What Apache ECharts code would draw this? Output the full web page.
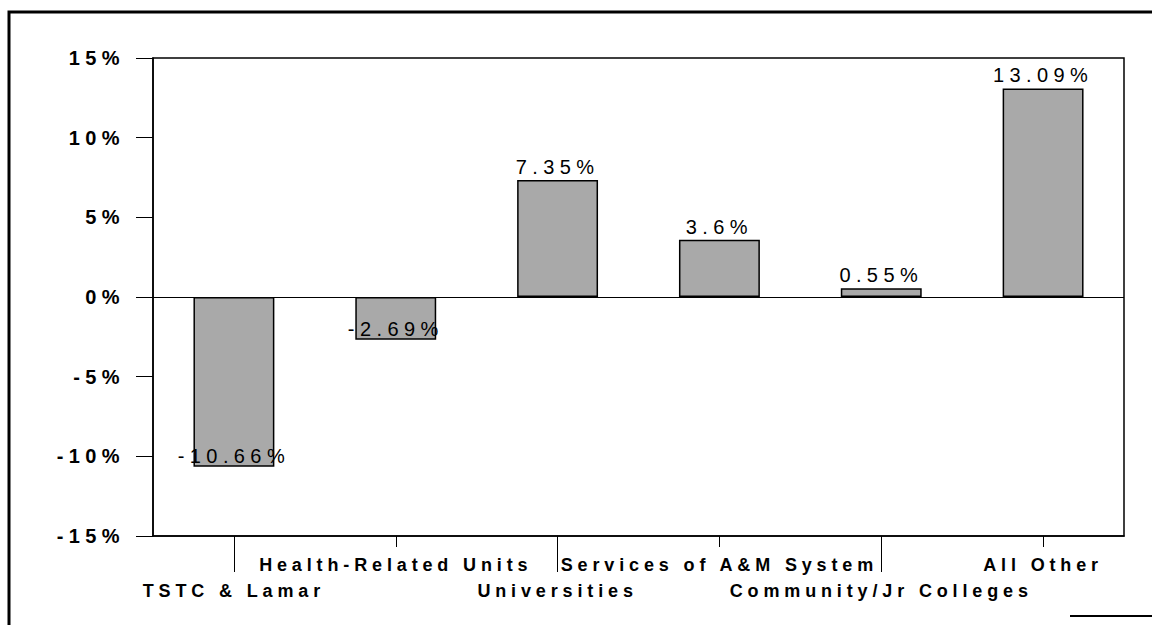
<!DOCTYPE html>
<html>
<head>
<meta charset="utf-8">
<script src="https://cdn.jsdelivr.net/npm/echarts@6/dist/echarts.min.js"></script>
<style>
  html, body { margin: 0; padding: 0; background: #fff; }
  #chart { width: 1152px; height: 625px; }
  /* wide tracking like the scanned original */
  #chart text { letter-spacing: 0.27em; }
</style>
</head>
<body>
<div id="chart"></div>
<script>
// categories and values (percent change)
var categories = ['TSTC & Lamar', 'Health-Related Units', 'Universities', 'Services of A&M System', 'Community/Jr Colleges', 'All Other'];
var changes = [-10.66, -2.69, 7.35, 3.6, 0.55, 13.09];
var yTicks = [-15, -10, -5, 0, 5, 10, 15];

var chart = echarts.init(document.getElementById('chart'), null, { renderer: 'svg' });
var font = '"Liberation Sans", Arial, Helvetica, sans-serif';

var option = {
  backgroundColor: '#fff',
  animation: false,
  grid: {
    left: 153, top: 58, right: 28, bottom: 89,
    show: true,
    borderColor: '#000',
    borderWidth: 1.5
  },
  xAxis: [
    {   // lower row of labels, long ticks
      type: 'category',
      data: categories,
      position: 'bottom',
      axisLine: { show: true, onZero: false, lineStyle: { color: '#000', width: 1.5 } },
      axisTick: {
        show: true, alignWithLabel: true, length: 36,
        interval: function (i) { return i % 2 === 0; },
        lineStyle: { color: '#000', width: 1 }
      },
      axisLabel: {
        interval: function (i) { return i % 2 === 0; },
        margin: 46,
        color: '#000', fontSize: 18, fontWeight: 'bold', fontFamily: font
      }
    },
    {   // upper row of labels, short ticks
      type: 'category',
      data: categories,
      position: 'bottom',
      axisLine: { show: false, onZero: false },
      axisTick: {
        show: true, alignWithLabel: true, length: 11,
        interval: function (i) { return i % 2 === 1; },
        lineStyle: { color: '#000', width: 1 }
      },
      axisLabel: {
        interval: function (i) { return i % 2 === 1; },
        margin: 20,
        color: '#000', fontSize: 18, fontWeight: 'bold', fontFamily: font
      }
    }
  ],
  yAxis: {
    type: 'value',
    min: yTicks[0],
    max: yTicks[yTicks.length - 1],
    interval: 5,
    axisLine: { show: true, lineStyle: { color: '#000', width: 1.5 } },
    axisTick: { show: true, length: 17, lineStyle: { color: '#000', width: 1 } },
    splitLine: { show: false },
    axisLabel: {
      margin: 28,
      color: '#000', fontSize: 20, fontWeight: 'bold', fontFamily: font,
      formatter: function (v) { return v + '%'; }
    }
  },
  series: [
    {
      type: 'bar',
      xAxisIndex: 0,
      barWidth: '50%',
      data: changes.map(function (v) {
        return {
          value: v,
          label: { position: v < 0 ? 'insideBottom' : 'top', distance: v < 0 ? 1 : 3 }
        };
      }),
      itemStyle: { color: '#a9a9a9', borderColor: '#000', borderWidth: 1.5 },
      label: {
        show: true,
        color: '#000', fontSize: 20, fontFamily: font,
        formatter: function (p) { return p.value + '%'; }
      },
      markLine: {   // zero line
        silent: true,
        symbol: 'none',
        label: { show: false },
        lineStyle: { color: '#000', type: 'solid', width: 1 },
        data: [{ yAxis: 0 }]
      }
    }
  ],
  graphic: [
    {   // outer frame (left + top) of the scanned page
      type: 'polyline',
      shape: { points: [[9, 625], [9, 12], [1152, 12]] },
      style: { stroke: '#000', lineWidth: 3, fill: null }
    },
    {
      type: 'line',
      shape: { x1: 1070, y1: 616, x2: 1152, y2: 616 },
      style: { stroke: '#000', lineWidth: 2 }
    }
  ]
};

chart.setOption(option);
</script>
</body>
</html>
